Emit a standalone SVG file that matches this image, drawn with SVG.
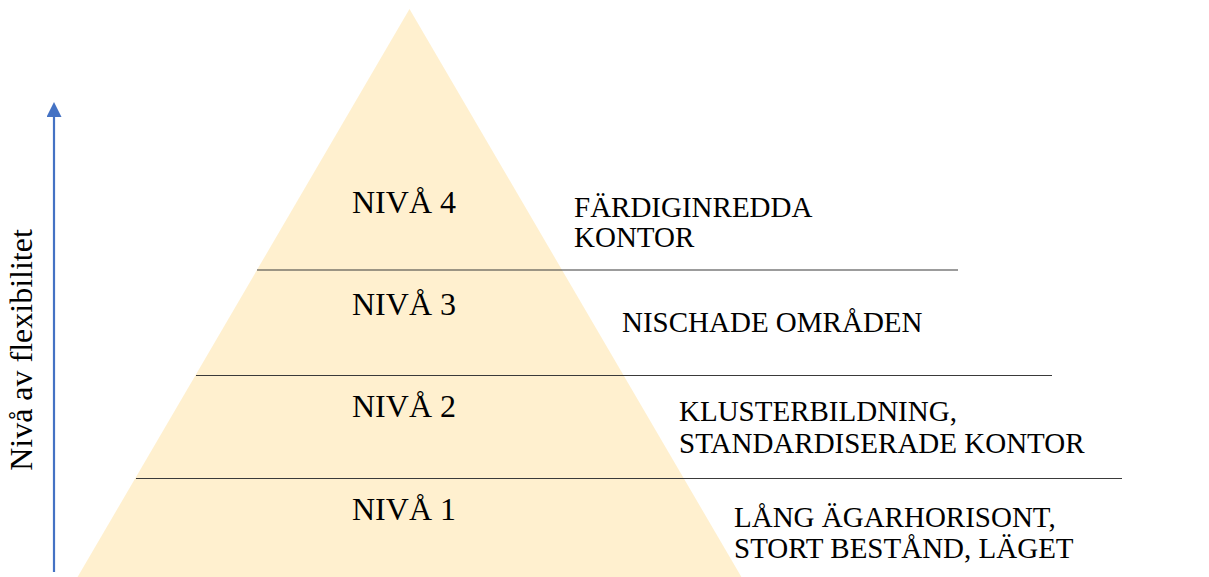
<svg xmlns="http://www.w3.org/2000/svg" width="1209" height="577" viewBox="0 0 1209 577">
<style>
text{font-family:"Liberation Serif","Times New Roman",Times,serif;fill:#000}
.lvl{font-size:32px;text-anchor:middle}
.desc{font-size:29px}
.sep{stroke:#3a3a3a;stroke-width:1.2}
</style>
<defs>
<marker id="ah" markerWidth="15" markerHeight="15" refX="2" refY="7.5" orient="auto" markerUnits="userSpaceOnUse" viewBox="0 0 15 15">
<path d="M0,0 L15,7.5 L0,15 z" fill="#4472C4"/>
</marker>
</defs>
<rect width="1209" height="577" fill="#fff"/>
<g id="pyramid">
<polygon points="409.5,9 742,578 77,578" fill="#FFF0CF"/>
</g>
<g id="connectors">
<line class="sep" x1="257" y1="270" x2="958" y2="270"/>
<line class="sep" x1="196" y1="375.5" x2="1052" y2="375.5"/>
<line class="sep" x1="136" y1="478.5" x2="1122" y2="478.5"/>
<line x1="54" y1="572" x2="54" y2="115" stroke="#4472C4" stroke-width="2.2" marker-end="url(#ah)"/>
</g>
<g id="axis-label">
<text transform="translate(32,350) rotate(-90)" font-size="32" text-anchor="middle">Nivå av flexibilitet</text>
</g>
<g id="level4">
<text class="lvl" x="404" y="213">NIVÅ 4</text>
<text class="desc" x="574" y="217">FÄRDIGINREDDA</text>
<text class="desc" x="574" y="247">KONTOR</text>
</g>
<g id="level3">
<text class="lvl" x="404" y="315">NIVÅ 3</text>
<text class="desc" x="622" y="332">NISCHADE OMRÅDEN</text>
</g>
<g id="level2">
<text class="lvl" x="404" y="417">NIVÅ 2</text>
<text class="desc" x="679" y="421">KLUSTERBILDNING,</text>
<text class="desc" x="679" y="453">STANDARDISERADE KONTOR</text>
</g>
<g id="level1">
<text class="lvl" x="404" y="520">NIVÅ 1</text>
<text class="desc" x="734" y="527">LÅNG ÄGARHORISONT,</text>
<text class="desc" x="734" y="558">STORT BESTÅND, LÄGET</text>
</g>
</svg>
